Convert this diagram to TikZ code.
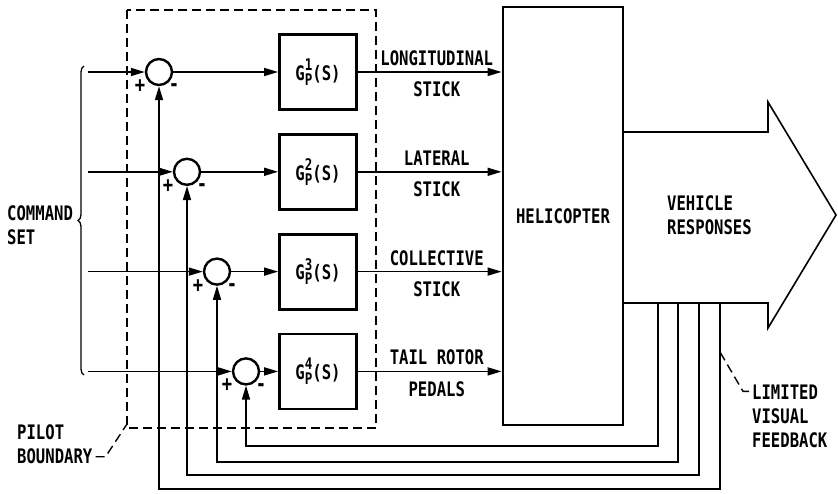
\documentclass[tikz,border=0pt]{standalone}
\usepackage{fontspec}
\setmainfont{DejaVu Sans Mono}[FakeStretch=0.78]
\usetikzlibrary{arrows.meta,positioning,calc,decorations.pathreplacing}

\newcommand{\gps}[1]{G\raisebox{-5pt}{\fontsize{16}{13}\selectfont\bfseries\shortstack[l]{#1\\P}}(S)}

\begin{document}
\begin{tikzpicture}[x=1pt,y=-1pt,node distance=22pt,
    every node/.style={font=\fontsize{20}{24}\selectfont\bfseries},
    sumpt/.style={draw,circle,line width=2.4pt,minimum size=26pt,inner sep=0pt},
    gbox/.style={draw,line width=2.8pt,minimum width=77pt,minimum height=75pt,inner sep=0pt},
    sig/.style={line width=1.6pt,-{Triangle[length=14pt,width=8pt]}},
    sign/.style={inner sep=0pt,font=\fontsize{22}{22}\selectfont\bfseries},
    lead/.style={line width=1.4pt,dash pattern=on 9pt off 5pt}]
  \useasboundingbox (0,0) rectangle (838,493);

  % pilot boundary
  \draw[lead] (127,10) rectangle (376,428);
  \coordinate (pbc) at (127,424);

  \node[draw,line width=2.8pt,minimum width=120pt,minimum height=418pt] (heli) at (563,216) {HELICOPTER};

  \node[gbox] (gp1) at (318,72) {\gps{1}};
  \node[gbox,below=of gp1] (gp2) {\gps{2}};
  \node[gbox,below=of gp2] (gp3) {\gps{3}};
  \node[gbox,below=of gp3] (gp4) {\gps{4}};

  \node[sumpt] (sum1) at (159,0 |- gp1) {};
  \node[sumpt] (sum2) at (187,0 |- gp2) {};
  \node[sumpt] (sum3) at (217,0 |- gp3) {};
  \node[sumpt] (sum4) at (246,0 |- gp4) {};

  \node[sign] (p1) at ($(sum1)+(-19,14)$) {+};
  \node[sign] (m1) at ($(sum1)+(15,16)$) {-};
  \node[sign] (p2) at ($(sum2)+(-19,14)$) {+};
  \node[sign] (m2) at ($(sum2)+(15,16)$) {-};
  \node[sign] (p3) at ($(sum3)+(-19,14)$) {+};
  \node[sign] (m3) at ($(sum3)+(15,16)$) {-};
  \node[sign] (p4) at ($(sum4)+(-19,14)$) {+};
  \node[sign] (m4) at ($(sum4)+(15,16)$) {-};

  % command inputs
  \coordinate (in1) at (88,0 |- sum1);
  \coordinate (in2) at (88,0 |- sum2);
  \coordinate (in3) at (88,0 |- sum3);
  \coordinate (in4) at (88,0 |- sum4);
  \draw[sig] (in1) -- (sum1);
  \draw[sig] (in2) -- (sum2);
  \draw[sig] (in3) -- (sum3);
  \draw[sig] (in4) -- (sum4);
  \draw[line width=1.3pt,decorate,decoration={brace,amplitude=6pt}] (84,375) -- (84,66);
  \node[anchor=west,align=left,inner sep=0pt] (cmd) at (7,225) {COMMAND\\SET};

  \draw[sig] (sum1) -- (gp1);
  \draw[sig] (sum2) -- (gp2);
  \draw[sig] (sum3) -- (gp3);
  \draw[sig] (sum4) -- (gp4);

  % controls into the helicopter
  \draw[sig] (gp1) -- (gp1 -| heli.west)
    node[midway,above=2pt,xshift=7pt] {LONGITUDINAL} node[midway,below=6pt,xshift=7pt] {STICK};
  \draw[sig] (gp2) -- (gp2 -| heli.west)
    node[midway,above=2pt,xshift=7pt] {LATERAL} node[midway,below=6pt,xshift=7pt] {STICK};
  \draw[sig] (gp3) -- (gp3 -| heli.west)
    node[midway,above=2pt,xshift=7pt] {COLLECTIVE} node[midway,below=6pt,xshift=7pt] {STICK};
  \draw[sig] (gp4) -- (gp4 -| heli.west)
    node[midway,above=2pt,xshift=7pt] {TAIL ROTOR} node[midway,below=6pt,xshift=7pt] {PEDALS};

  % vehicle responses arrow
  \draw[line width=1.6pt,line join=miter] (623,132) -- (768,132) -- (768,102) -- (836,215)
    -- (768,328) -- (768,303) -- (623,303);
  \node[anchor=west,align=left,inner sep=0pt] (vr) at (667,215) {VEHICLE\\RESPONSES};

  % visual feedback loops
  \coordinate (tap1) at (720,303);
  \coordinate (tap2) at (699,303);
  \coordinate (tap3) at (678,303);
  \coordinate (tap4) at (658,303);
  \draw[sig] (tap1) -- ++(0,186) -| (sum1.south);
  \draw[sig] (tap2) -- ++(0,172) -| (sum2.south);
  \draw[sig] (tap3) -- ++(0,159) -| (sum3.south);
  \draw[sig] (tap4) -- ++(0,143) -| (sum4.south);

  \node[anchor=west,align=left,inner sep=0pt] (lim) at (752,416) {LIMITED\\VISUAL\\FEEDBACK};
  \coordinate (lvf) at (720,352);
  \draw[lead] ($(lim.north west)+(-3,7)$) -- ++(-6,0) -- (lvf);

  \node[anchor=west,align=left,inner sep=0pt] (pilot) at (17,444) {PILOT\\BOUNDARY};
  \draw[lead] ($(pilot.south east)+(3,-7)$) -- ++(10,0) -- (pbc);
\end{tikzpicture}
\end{document}
